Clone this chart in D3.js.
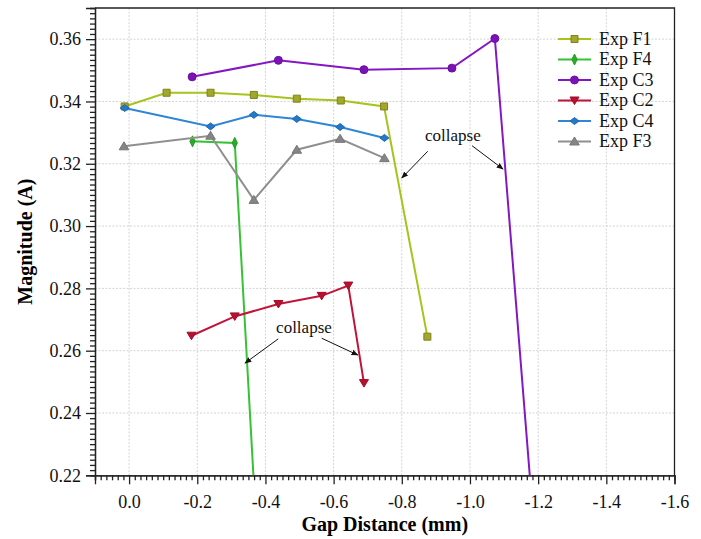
<!DOCTYPE html>
<html>
<head>
<meta charset="utf-8">
<script src="https://cdn.jsdelivr.net/npm/d3@7"></script>
<style>
  body { margin: 0; background: #fff; }
  svg text { font-family: "Liberation Serif", "Times New Roman", serif; }
</style>
</head>
<body>
<div id="chart"></div>
<script>
// series (gap distance in mm, magnitude in A)
var seriesNames = ["Exp F1", "Exp F4", "Exp C3", "Exp C2", "Exp C4", "Exp F3"];

var f1X = [0.013, -0.11, -0.239, -0.366, -0.492, -0.621, -0.748, -0.875];
var f1Y = [0.3384, 0.3428, 0.3428, 0.3421, 0.3409, 0.3403, 0.3384, 0.2645];

var f4X = [-0.186, -0.31, -0.375];
var f4Y = [0.3272, 0.3267, 0.20];

var c3X = [-0.185, -0.438, -0.689, -0.947, -1.073, -1.19];
var c3Y = [0.3479, 0.3532, 0.3502, 0.3507, 0.3602, 0.20];

var c2X = [-0.183, -0.31, -0.438, -0.565, -0.643, -0.689];
var c2Y = [0.2648, 0.271, 0.275, 0.2776, 0.2809, 0.2496];

var c4X = [0.013, -0.239, -0.366, -0.492, -0.619, -0.749];
var c4Y = [0.3379, 0.332, 0.3357, 0.3344, 0.3318, 0.3283];

var f3X = [0.015, -0.239, -0.366, -0.492, -0.619, -0.749];
var f3Y = [0.3256, 0.329, 0.3084, 0.3245, 0.328, 0.3218];

var xTicks = [0.0, -0.2, -0.4, -0.6, -0.8, -1.0, -1.2, -1.4, -1.6];
var yTicks = [0.22, 0.24, 0.26, 0.28, 0.30, 0.32, 0.34, 0.36];

// "collapse" notes: label position, then arrows [fromX, fromY, toX, toY]
var notes = [
  { x: -0.95, y: 0.3290, arrows: [[-0.876, 0.3240, -0.800, 0.3154], [-1.006, 0.3258, -1.097, 0.3183]] },
  { x: -0.513, y: 0.2673, arrows: [[-0.4376, 0.2638, -0.340, 0.2560], [-0.565, 0.2640, -0.671, 0.2586]] }
];

var width = 701,
    height = 539,
    mLeft = 95,
    mTop = 8,
    mRight = 674.5,
    mBottom = 475.3;

var colors = ["#a6c41c", "#35c233", "#8417c4", "#c2143a", "#2f86d6", "#8f8f8f"],
    markerFill = ["#a3a72c", "#2aab2a", "#7a12b5", "#b8102f", "#2478c8", "#858585"],
    markerStroke = ["#7d8418", "#229a22", "#6a0fa0", "#a00e2a", "#1d68b0", "#777"];

var series = [
  { xs: f1X, ys: f1Y }, { xs: f4X, ys: f4Y }, { xs: c3X, ys: c3Y },
  { xs: c2X, ys: c2Y }, { xs: c4X, ys: c4Y }, { xs: f3X, ys: f3Y }
].map(function(s, i) {
  return {
    name: seriesNames[i],
    values: s.xs.map(function(x, j) { return { x: x, y: s.ys[j] }; })
  };
});

var x = d3.scaleLinear().domain([0.1, -1.6]).range([mLeft, mRight]);
var y = d3.scaleLinear().domain([0.22, 0.37]).range([mBottom, mTop]);

// marker shapes
var shapes = [
  function() { return "M-3.5,-3.5H3.5V3.5H-3.5Z"; },
  function() { return "M0,-5.5L2.6,0L0,5.5L-2.6,0Z"; },
  function() { return d3.symbol(d3.symbolCircle, 50)(); },
  function() { return "M-4.5,-3.5L4.5,-3.5L0,4Z"; },
  function() { return "M0,-3.5L4.5,0L0,3.5L-4.5,0Z"; },
  function() { return "M0,-4.5L4.8,3.5L-4.8,3.5Z"; }
];

var svg = d3.select("#chart").append("svg")
    .attr("width", width)
    .attr("height", height);

svg.append("defs").append("clipPath")
    .attr("id", "plot")
  .append("rect")
    .attr("x", mLeft)
    .attr("y", mTop)
    .attr("width", mRight - mLeft)
    .attr("height", mBottom - mTop);

svg.append("defs").append("marker")
    .attr("id", "arrow")
    .attr("viewBox", "0 0 10 10")
    .attr("refX", 9)
    .attr("refY", 5)
    .attr("markerWidth", 7)
    .attr("markerHeight", 7)
    .attr("orient", "auto")
  .append("path")
    .attr("d", "M0,1L10,5L0,9Z")
    .attr("fill", "#111");

// grid
var grid = svg.append("g");
grid.selectAll(".gx")
    .data(xTicks)
    .enter().append("line")
    .attr("x1", function(d) { return x(d); })
    .attr("x2", function(d) { return x(d); })
    .attr("y1", mTop)
    .attr("y2", mBottom);
grid.selectAll(".gy")
    .data(yTicks.slice(1))
    .enter().append("line")
    .attr("x1", mLeft)
    .attr("x2", mRight)
    .attr("y1", function(d) { return y(d); })
    .attr("y2", function(d) { return y(d); });
grid.selectAll("line")
    .style("stroke", "#d4d4d4")
    .style("stroke-dasharray", "2,1.5")
    .style("stroke-width", 1);

// frame (top and right)
svg.append("path")
    .attr("d", "M" + mLeft + "," + mTop + "H" + mRight + "V" + mBottom)
    .style("fill", "none")
    .style("stroke", "#222")
    .style("stroke-width", 1.3);

// axes, minor ticks every 1/12 of a major step
var xMinor = d3.range(-6, 97).filter(function(i) { return i % 12 !== 0; })
    .map(function(i) { return -i * 0.2 / 12; });
var yMinor = d3.range(1, 90).filter(function(i) { return i % 12 !== 0; })
    .map(function(i) { return 0.22 + i * 0.02 / 12; });

var fmt = function(d) { return d3.format(".1f")(d).replace("\u2212", "-"); };

svg.append("g")
    .attr("transform", "translate(0," + mBottom + ")")
    .call(d3.axisBottom(x).tickValues(xMinor).tickSize(5).tickFormat(""));
svg.append("g")
    .attr("class", "xaxis")
    .attr("transform", "translate(0," + mBottom + ")")
    .call(d3.axisBottom(x).tickValues(xTicks).tickSize(9).tickPadding(11).tickFormat(fmt));

svg.append("g")
    .attr("transform", "translate(" + mLeft + ",0)")
    .call(d3.axisLeft(y).tickValues(yMinor).tickSize(5).tickFormat(""));
svg.append("g")
    .attr("class", "yaxis")
    .attr("transform", "translate(" + mLeft + ",0)")
    .call(d3.axisLeft(y).tickValues(yTicks).tickSize(9).tickPadding(5).tickFormat(d3.format(".2f")));

svg.selectAll(".domain, .tick line")
    .style("stroke", "#222")
    .style("stroke-width", 1.3);
svg.selectAll(".tick text")
    .style("font-size", "18px")
    .style("fill", "#111");

svg.append("text")
    .attr("x", (mLeft + mRight) / 2)
    .attr("y", 531)
    .attr("text-anchor", "middle")
    .style("font-size", "20px")
    .style("font-weight", "bold")
    .text("Gap Distance (mm)");

svg.append("text")
    .attr("transform", "translate(32," + ((mTop + mBottom) / 2) + ") rotate(-90)")
    .attr("text-anchor", "middle")
    .style("font-size", "20px")
    .style("font-weight", "bold")
    .text("Magnitude (A)");

// series
var line = d3.line()
    .x(function(d) { return x(d.x); })
    .y(function(d) { return y(d.y); });

var plot = svg.append("g").attr("clip-path", "url(#plot)");

series.forEach(function(s, i) {
  var g = plot.append("g");
  g.append("path")
      .datum(s.values)
      .attr("d", line)
      .style("fill", "none")
      .style("stroke", colors[i])
      .style("stroke-width", 2);
  g.selectAll("path.pt")
      .data(s.values)
      .enter().append("path")
      .attr("class", "pt")
      .attr("transform", function(d) { return "translate(" + x(d.x) + "," + y(d.y) + ")"; })
      .attr("d", shapes[i])
      .style("fill", markerFill[i])
      .style("stroke", markerStroke[i])
      .style("stroke-width", 1);
});

// annotations
notes.forEach(function(n) {
  svg.append("text")
      .attr("x", x(n.x))
      .attr("y", y(n.y))
      .attr("dy", "0.3em")
      .attr("text-anchor", "middle")
      .style("font-size", "17px")
      .style("fill", "#111")
      .text("collapse");
  n.arrows.forEach(function(a) {
    svg.append("line")
        .attr("x1", x(a[0]))
        .attr("y1", y(a[1]))
        .attr("x2", x(a[2]))
        .attr("y2", y(a[3]))
        .attr("marker-end", "url(#arrow)")
        .style("stroke", "#111")
        .style("stroke-width", 1);
  });
});

// legend
var legend = svg.append("g").attr("transform", "translate(558,39)");
var item = legend.selectAll("g")
    .data(series)
    .enter().append("g")
    .attr("transform", function(d, i) { return "translate(0," + i * 20.5 + ")"; });
item.append("line")
    .attr("x1", 0)
    .attr("x2", 33)
    .style("stroke", function(d, i) { return colors[i]; })
    .style("stroke-width", 2);
item.append("path")
    .attr("transform", "translate(16.5,0)")
    .attr("d", function(d, i) { return shapes[i](); })
    .style("fill", function(d, i) { return markerFill[i]; })
    .style("stroke", function(d, i) { return markerStroke[i]; })
    .style("stroke-width", 1);
item.append("text")
    .attr("x", 41)
    .attr("dy", "0.33em")
    .style("font-size", "18px")
    .style("fill", "#111")
    .text(function(d) { return d.name; });
</script>
</body>
</html>
